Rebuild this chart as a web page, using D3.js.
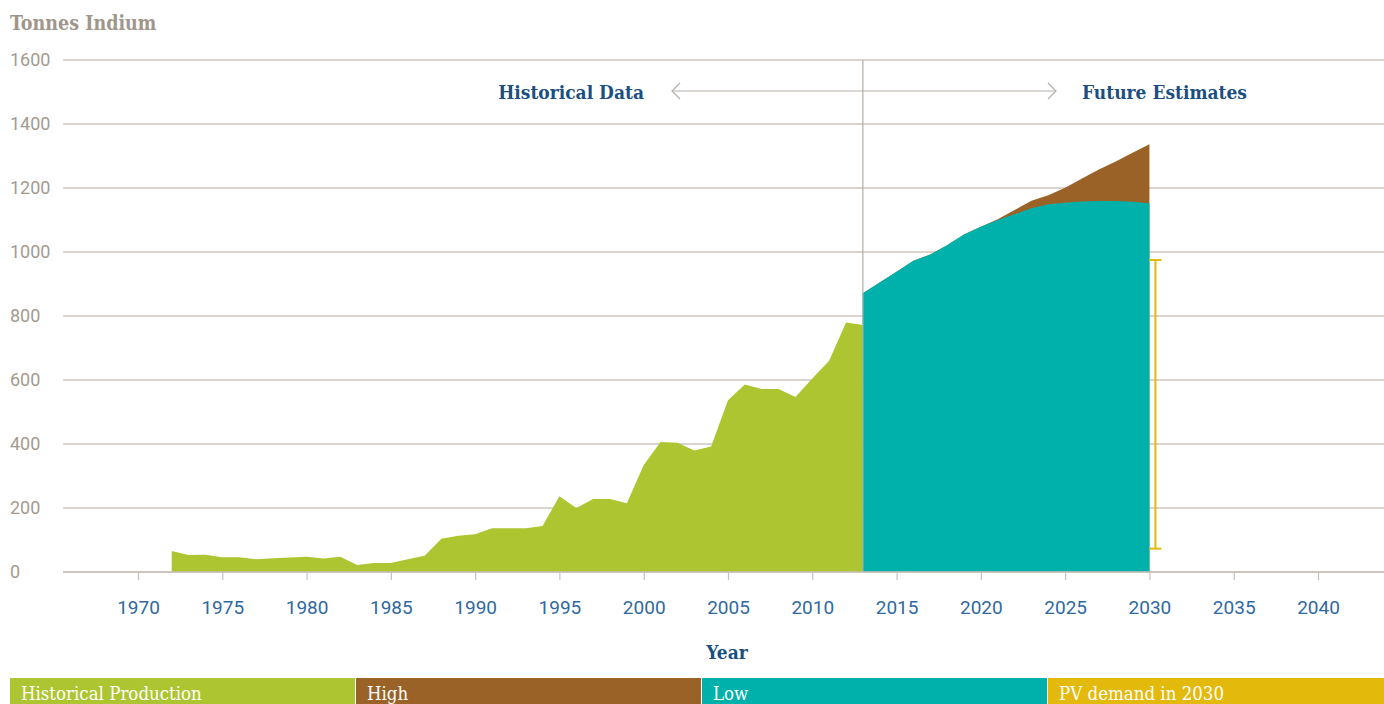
<!DOCTYPE html>
<html>
<head>
<meta charset="utf-8">
<script src="https://cdn.jsdelivr.net/npm/d3@7"></script>
<style>
  body { margin: 0; background: #fff; }
  svg { display: block; }
  .slab { font-family: "DejaVu Serif Condensed", "DejaVu Serif", serif; }
  .num { font-family: "Liberation Sans Narrow", "Roboto", sans-serif; }
</style>
</head>
<body>
<div id="chart"></div>
<script>
// Historical production (tonnes indium), 1972-2013
const histYears = [1972, 1973, 1974, 1975, 1976, 1977, 1978, 1979, 1980, 1981, 1982, 1983, 1984, 1985, 1986, 1987, 1988, 1989, 1990, 1991, 1992, 1993, 1994, 1995, 1996, 1997, 1998, 1999, 2000, 2001, 2002, 2003, 2004, 2005, 2006, 2007, 2008, 2009, 2010, 2011, 2012, 2013];
const histValues = [66, 53, 54, 46, 46, 40, 43, 45, 48, 42, 48, 22, 28, 28, 40, 51, 104, 113, 118, 137, 137, 137, 144, 237, 200, 228, 228, 215, 334, 406, 404, 380, 392, 537, 586, 572, 572, 547, 605, 660, 780, 772];

// Future estimates, 2013-2030
const futureYears = [2013, 2014, 2015, 2016, 2017, 2018, 2019, 2020, 2021, 2022, 2023, 2024, 2025, 2026, 2027, 2028, 2029, 2030];
const lowValues = [871, 905, 938, 973, 992, 1021, 1055, 1079, 1100, 1118, 1137, 1149, 1154, 1158, 1159, 1159, 1157, 1152];
const highValues = [871, 905, 938, 973, 992, 1021, 1055, 1079, 1102, 1131, 1160, 1177, 1201, 1230, 1258, 1283, 1310, 1337];

// PV demand in 2030 range
const pvYear = 2030;
const pvRange = [73, 975];

const xTicks = [1970, 1975, 1980, 1985, 1990, 1995, 2000, 2005, 2010, 2015, 2020, 2025, 2030, 2035, 2040];
const yTicks = [0, 200, 400, 600, 800, 1000, 1200, 1400, 1600];
const splitYear = 2013;

const legendItems = ["Historical Production", "High", "Low", "PV demand in 2030"];
const colors = ["#adc530", "#9b6227", "#00b1ab", "#e3b90b"];

const W = 1384, H = 704;
const plotLeft = 63, plotRight = 1384;

const svg = d3.select("#chart").append("svg")
  .attr("width", W)
  .attr("height", H);

const x = d3.scaleLinear().domain([1970, 2040]).range([138, 1318]);
const y = d3.scaleLinear().domain([0, 1600]).range([572, 60]);

// grid lines + y labels
svg.append("g")
  .selectAll("line")
  .data(yTicks)
  .enter()
  .append("line")
  .attr("x1", plotLeft)
  .attr("x2", plotRight)
  .attr("y1", (d) => y(d))
  .attr("y2", (d) => y(d))
  .attr("stroke", "#cdc6be")
  .attr("stroke-width", 1.5);

svg.append("g")
  .selectAll("text")
  .data(yTicks)
  .enter()
  .append("text")
  .attr("class", "num")
  .attr("x", 10)
  .attr("y", (d) => y(d) + 6)
  .attr("fill", "#a39a90")
  .style("font-size", "18px")
  .text((d) => d);

svg.append("text")
  .attr("class", "slab")
  .attr("x", 10)
  .attr("y", 30)
  .attr("fill", "#a0968c")
  .style("font-size", "19.5px")
  .style("font-weight", "bold")
  .text("Tonnes Indium");

// areas
const hist = histYears.map((yr, i) => ({ yr: yr, v: histValues[i] }));
const future = futureYears.map((yr, i) => ({ yr: yr, lo: lowValues[i], hi: highValues[i] }));

svg.append("path")
  .datum(hist)
  .attr("fill", colors[0])
  .attr("d", d3.area().x((d) => x(d.yr)).y0(y(0)).y1((d) => y(d.v)));

svg.append("path")
  .datum(future)
  .attr("fill", colors[1])
  .attr("d", d3.area().x((d) => x(d.yr)).y0(y(0)).y1((d) => y(d.hi)));

svg.append("path")
  .datum(future)
  .attr("fill", colors[2])
  .attr("d", d3.area().x((d) => x(d.yr)).y0(y(0)).y1((d) => y(d.lo)));

// split line
svg.append("line")
  .attr("x1", x(splitYear))
  .attr("x2", x(splitYear))
  .attr("y1", y(1600))
  .attr("y2", y(0))
  .attr("stroke", "#b5aca3")
  .attr("stroke-width", 1.2);

// x axis
const xAxis = svg.append("g")
  .attr("transform", `translate(0,${y(0)})`)
  .call(d3.axisBottom(x).tickValues(xTicks).tickFormat(d3.format("d")).tickSize(8).tickPadding(21));
xAxis.select(".domain").remove();
xAxis.selectAll(".tick line").attr("stroke", "#c8c0b8").attr("stroke-width", 1.2);
xAxis.selectAll(".tick text")
  .attr("class", "num")
  .attr("fill", "#2f69a0")
  .style("font-size", "19px");
svg.append("line")
  .attr("x1", plotLeft)
  .attr("x2", plotRight)
  .attr("y1", y(0))
  .attr("y2", y(0))
  .attr("stroke", "#c8c0b8")
  .attr("stroke-width", 1.5);

svg.append("text")
  .attr("class", "slab")
  .attr("x", 727)
  .attr("y", 659)
  .attr("text-anchor", "middle")
  .attr("fill", "#1b4f82")
  .style("font-size", "19px")
  .style("font-weight", "bold")
  .text("Year");

// PV demand error bar
const ebx = x(pvYear) + 6;
const eb = svg.append("g").attr("stroke", colors[3]).attr("stroke-width", 2);
eb.append("line").attr("x1", ebx).attr("x2", ebx).attr("y1", y(pvRange[0])).attr("y2", y(pvRange[1]));
pvRange.forEach((v) => {
  eb.append("line").attr("x1", ebx - 6).attr("x2", ebx + 6).attr("y1", y(v)).attr("y2", y(v));
});

// historical / future annotation
const ay = 91;
const ann = svg.append("g").attr("stroke", "#b8b0a8").attr("stroke-width", 1.2).attr("fill", "none");
ann.append("line").attr("x1", 672).attr("x2", 1056).attr("y1", ay).attr("y2", ay);
ann.append("path").attr("d", `M680,${ay - 8} L672,${ay} L680,${ay + 8}`);
ann.append("path").attr("d", `M1048,${ay - 8} L1056,${ay} L1048,${ay + 8}`);

svg.append("text")
  .attr("class", "slab")
  .attr("x", 644)
  .attr("y", 99)
  .attr("text-anchor", "end")
  .attr("fill", "#1b4f82")
  .style("font-size", "19px")
  .style("font-weight", "bold")
  .text("Historical Data");

svg.append("text")
  .attr("class", "slab")
  .attr("x", 1082)
  .attr("y", 99)
  .attr("fill", "#1b4f82")
  .style("font-size", "19px")
  .style("font-weight", "bold")
  .text("Future Estimates");

// legend strip
const legX = d3.scaleBand().domain(legendItems).range([10, 1394]);
const leg = svg.append("g").selectAll("g")
  .data(legendItems)
  .enter()
  .append("g")
  .attr("transform", (d) => `translate(${legX(d)},678)`);
leg.append("rect")
  .attr("width", legX.bandwidth() - 1)
  .attr("height", 30)
  .attr("fill", (d, i) => colors[i]);
leg.append("text")
  .attr("class", "slab")
  .attr("x", 11)
  .attr("y", 22)
  .attr("fill", "#fff")
  .style("font-size", "18.5px")
  .text((d) => d);
</script>
</body>
</html>
